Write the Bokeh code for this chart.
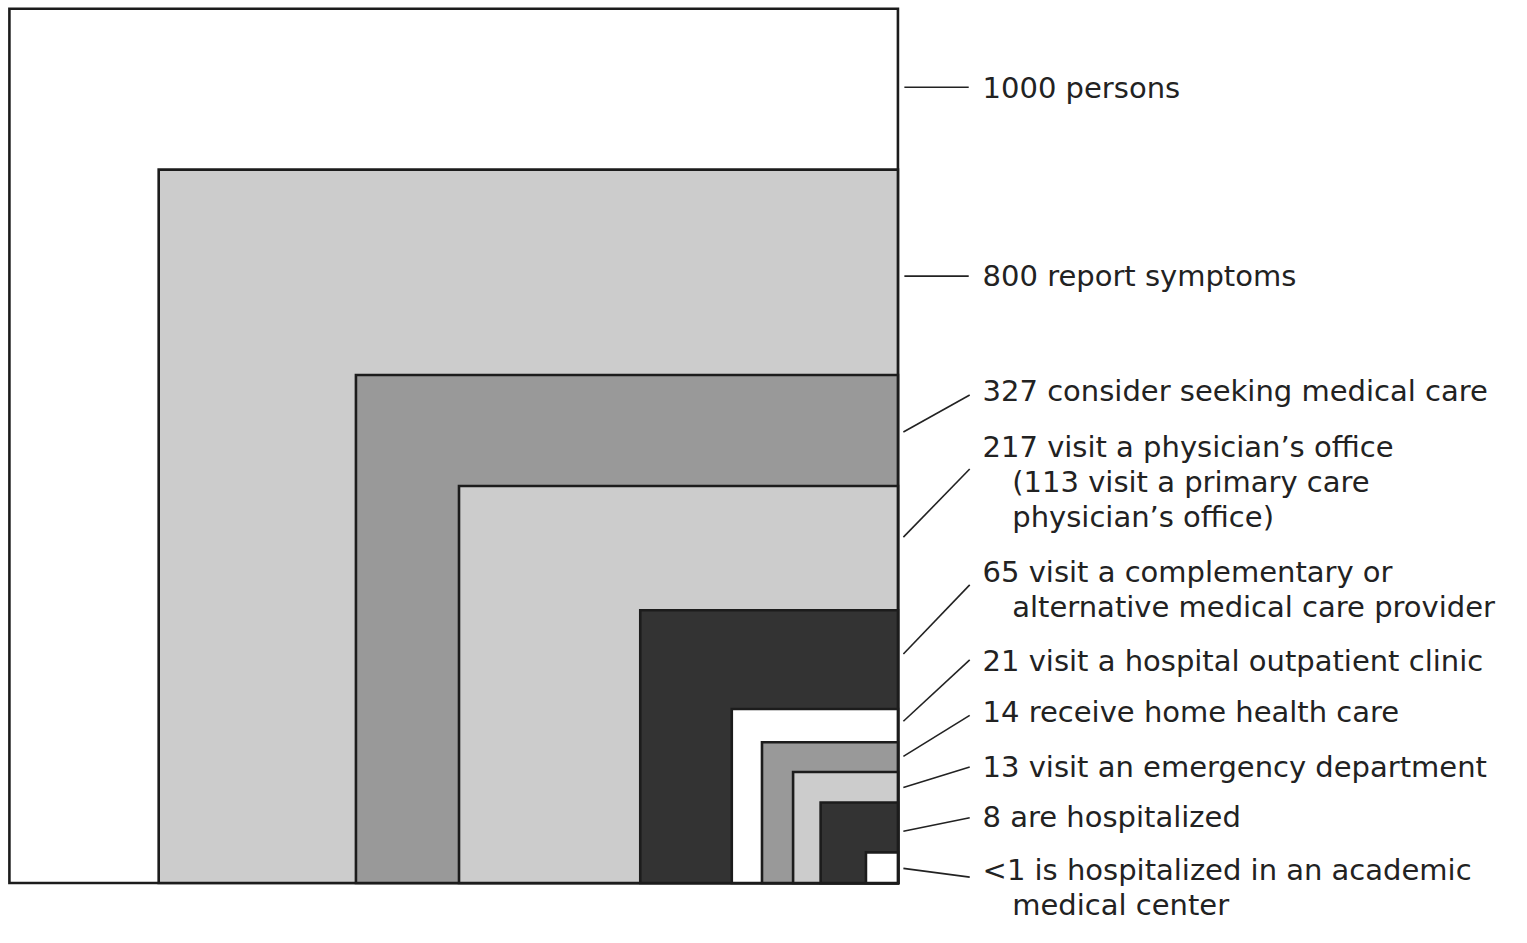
from bokeh.plotting import figure
from bokeh.models import Range1d, ColumnDataSource
from bokeh.embed import file_html
from bokeh.resources import INLINE
from bokeh.core.properties import value

# ---- data ----
counts = ["1000", "800", "327", "217", "65", "21", "14", "13", "8", "<1"]
labels = [
    ["1000 persons"],
    ["800 report symptoms"],
    ["327 consider seeking medical care"],
    ["217 visit a physician\u2019s office", "(113 visit a primary care", "physician\u2019s office)"],
    ["65 visit a complementary or", "alternative medical care provider"],
    ["21 visit a hospital outpatient clinic"],
    ["14 receive home health care"],
    ["13 visit an emergency department"],
    ["8 are hospitalized"],
    ["<1 is hospitalized in an academic", "medical center"],
]
# schematic box sizes (outer box = 1000)
box_width = [1000, 832, 610, 494, 290, 187, 153, 118, 87, 36]
box_height = [1000, 816, 581, 454, 312, 199, 161, 127, 92, 35]
box_fill = ["#ffffff", "#cccccc", "#999999", "#cccccc", "#333333",
            "#ffffff", "#999999", "#cccccc", "#333333", "#ffffff"]

# ---- layout ----
W, H = 1511, 927
FX, FY = 0.99, 0.974          # reference px -> canvas px
S = 0.8975                    # reference px per data unit
X0, Y0 = 9.0, 906.0           # reference px of data origin

def dx(px):
    return (px - X0) / S

def dy(py):
    return (Y0 - py) / S

p = figure(width=W, height=H, output_backend="svg", toolbar_location=None,
           min_border=0, x_range=Range1d(dx(0), dx(W / FX)),
           y_range=Range1d(dy(H / FY), dy(0)))
p.axis.visible = False
p.grid.visible = False
p.outline_line_color = None
p.background_fill_color = "#ffffff"

src = ColumnDataSource(dict(
    left=[1000 - w for w in box_width],
    right=[1000] * len(box_width),
    bottom=[0] * len(box_height),
    top=box_height,
    fill=box_fill,
))
p.quad(left="left", right="right", bottom="bottom", top="top", source=src,
       fill_color="fill", line_color="#1c1c1c", line_width=2.6, line_join="miter")

# label first-line centres and leader lines (reference px)
label_y = [90, 283, 401, 458, 587, 678, 731, 787, 838, 893]
line_gap = 36
leader = [
    ((913, 89), (978, 89)),
    ((913, 283), (978, 283)),
    ((912, 443), (979, 405)),
    ((912, 551), (979, 481)),
    ((912, 671), (979, 600)),
    ((912, 740), (979, 677)),
    ((912, 776), (979, 734)),
    ((912, 808), (979, 787)),
    ((912, 853), (979, 839)),
    ((912, 891), (979, 900)),
]

xs, ys = [], []
for (a, b) in leader:
    xs.append([dx(a[0]), dx(b[0])])
    ys.append([dy(a[1]), dy(b[1])])
p.multi_line(xs=xs, ys=ys, line_color="#222222", line_width=1.6)

tx, ty, tt = [], [], []
for lines, y0 in zip(labels, label_y):
    for i, t in enumerate(lines):
        tx.append(dx(992 if i == 0 else 1022))
        ty.append(dy(y0 + i * line_gap))
        tt.append(t)
p.text(x=tx, y=ty, text=tt, text_font=value("DejaVu Sans"), text_font_size="29px",
       text_color="#222222", text_baseline="middle", text_align="left")

open("out.html", "w").write(file_html(p, INLINE))
